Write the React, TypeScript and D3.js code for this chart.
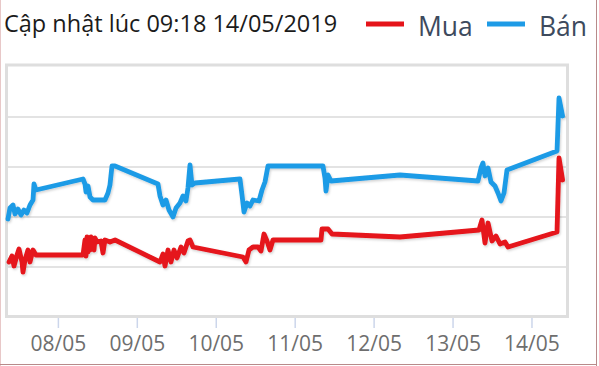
import * as d3 from "d3";
import React, { useEffect, useRef } from "react";

// Tỷ giá Mua / Bán theo thời điểm cập nhật
const muaData: [string, number][] = [
  ["07/05 08:59", 23255], ["07/05 09:53", 23261], ["07/05 10:30", 23251], ["07/05 11:25", 23262],
  ["07/05 12:01", 23268], ["07/05 12:56", 23255], ["07/05 13:14", 23245], ["07/05 13:51", 23257],
  ["07/05 14:45", 23267], ["07/05 15:22", 23255], ["07/05 16:17", 23267], ["07/05 17:11", 23262],
  ["08/05 07:29", 23262], ["08/05 08:05", 23277], ["08/05 08:24", 23261], ["08/05 08:42", 23280],
  ["08/05 09:00", 23265], ["08/05 09:18", 23279], ["08/05 09:37", 23267], ["08/05 09:55", 23280],
  ["08/05 10:31", 23277], ["08/05 10:50", 23267], ["08/05 11:08", 23279], ["08/05 11:44", 23275],
  ["08/05 12:57", 23276], ["08/05 13:34", 23264], ["08/05 14:10", 23277], ["08/05 15:41", 23275],
  ["08/05 17:13", 23277],
  ["09/05 06:54", 23255], ["09/05 07:48", 23263], ["09/05 08:25", 23251], ["09/05 09:20", 23267],
  ["09/05 10:14", 23255], ["09/05 11:09", 23267], ["09/05 12:04", 23259], ["09/05 13:17", 23270],
  ["09/05 14:11", 23264], ["09/05 15:24", 23276], ["09/05 16:01", 23277], ["09/05 16:56", 23270],
  ["10/05 08:08", 23260], ["10/05 09:03", 23255], ["10/05 09:57", 23267], ["10/05 11:10", 23270],
  ["10/05 12:42", 23270], ["10/05 13:36", 23266], ["10/05 14:31", 23283], ["10/05 15:26", 23276],
  ["10/05 16:20", 23267], ["10/05 17:15", 23277], ["11/05 07:51", 23277], ["11/05 08:09", 23288],
  ["11/05 09:59", 23288], ["11/05 11:12", 23283], ["12/05 07:52", 23280],
  ["13/05 07:54", 23287], ["13/05 08:48", 23297], ["13/05 09:43", 23274], ["13/05 10:38", 23294],
  ["13/05 11:51", 23276], ["13/05 13:04", 23281], ["13/05 14:17", 23273], ["13/05 15:48", 23275],
  ["13/05 16:43", 23270], ["14/05 07:37", 23285], ["14/05 08:13", 23359], ["14/05 09:18", 23337],
];

const banData: [string, number][] = [
  ["07/05 08:40", 23298], ["07/05 09:17", 23309], ["07/05 10:12", 23312], ["07/05 10:48", 23303],
  ["07/05 11:43", 23308], ["07/05 12:38", 23302], ["07/05 13:32", 23307], ["07/05 14:27", 23304],
  ["07/05 15:22", 23312], ["07/05 16:17", 23317], ["07/05 16:35", 23333], ["07/05 17:11", 23327],
  ["08/05 07:29", 23338], ["08/05 08:05", 23333], ["08/05 08:24", 23325], ["08/05 09:00", 23331],
  ["08/05 09:37", 23320], ["08/05 10:31", 23317], ["08/05 14:10", 23317], ["08/05 15:05", 23324],
  ["08/05 15:41", 23332], ["08/05 16:18", 23351], ["08/05 17:13", 23351],
  ["09/05 06:17", 23333], ["09/05 06:54", 23321], ["09/05 07:48", 23312], ["09/05 08:43", 23317],
  ["09/05 09:38", 23307], ["09/05 10:51", 23300], ["09/05 11:46", 23309], ["09/05 12:58", 23314],
  ["09/05 13:53", 23321], ["09/05 14:48", 23316], ["09/05 15:24", 23329], ["09/05 16:01", 23352],
  ["09/05 16:37", 23332], ["09/05 17:32", 23334], ["10/05 07:13", 23338], ["10/05 07:50", 23322],
  ["10/05 08:26", 23305], ["10/05 09:21", 23314], ["10/05 10:16", 23311], ["10/05 11:10", 23317],
  ["10/05 13:00", 23316], ["10/05 13:55", 23327], ["10/05 14:49", 23335], ["10/05 15:44", 23351],
  ["11/05 08:27", 23351], ["11/05 09:04", 23339], ["11/05 09:22", 23326], ["11/05 09:59", 23342],
  ["11/05 10:53", 23336], ["12/05 07:52", 23342],
  ["13/05 07:35", 23336], ["13/05 08:30", 23349], ["13/05 09:06", 23354], ["13/05 09:43", 23341],
  ["13/05 10:38", 23349], ["13/05 11:32", 23335], ["13/05 12:45", 23331], ["13/05 13:40", 23324],
  ["13/05 14:35", 23316], ["13/05 15:30", 23324], ["13/05 16:24", 23347], ["14/05 07:37", 23366],
  ["14/05 08:13", 23419], ["14/05 09:18", 23401],
];

const xTickLabels = ["08/05", "09/05", "10/05", "11/05", "12/05", "13/05", "14/05"];
const xDomain = ["07/05 07:46", "14/05 10:39"];
const yDomain = [23200, 23450];
const yGridValues = [23250, 23300, 23350, 23400];

const seriesNames = ["Mua", "Bán"];
const seriesColors = ["#e5141a", "#1e9be6"];
const title = "Cập nhật lúc 09:18 14/05/2019";

const parseTime = (s: string) => d3.utcParse("%d/%m/%Y %H:%M")(s.replace(" ", "/2019 ")) as Date;
const parseDay = (s: string) => d3.utcParse("%d/%m/%Y")(s + "/2019") as Date;

export default function App() {
  const svgRef = useRef<SVGSVGElement>(null);

  useEffect(() => {
    const width = 599;
    const height = 366;
    const font = "'Open Sans', 'Noto Sans', sans-serif";

    const x = d3.scaleUtc().domain(xDomain.map(parseTime)).range([5, 567]);
    const y = d3.scaleLinear().domain(yDomain).range([317, 67]);

    const svg = d3.select(svgRef.current);
    svg.selectAll("*").remove();
    svg.attr("width", width).attr("height", height).style("background", "#fff");

    const defs = svg.append("defs");
    const f = defs.append("filter").attr("id", "shadow").attr("x", "-5%").attr("y", "-5%").attr("width", "110%").attr("height", "120%");
    f.append("feDropShadow").attr("dx", 1).attr("dy", 1.5).attr("stdDeviation", 1).attr("flood-color", "#000").attr("flood-opacity", 0.18);

    // grid lines
    svg
      .append("g")
      .selectAll("line")
      .data(yGridValues)
      .join("line")
      .attr("x1", 6)
      .attr("x2", 567)
      .attr("y1", (d) => y(d))
      .attr("y2", (d) => y(d))
      .attr("stroke", "#e3e3e3")
      .attr("stroke-width", 2);

    // plot border
    svg
      .append("rect")
      .attr("x", 6.5)
      .attr("y", 65)
      .attr("width", 561)
      .attr("height", 251.5)
      .attr("fill", "none")
      .attr("stroke", "#dedede")
      .attr("stroke-width", 3);

    // x axis ticks and labels
    const tickDates = xTickLabels.map(parseDay);
    const axis = svg.append("g");
    axis
      .selectAll("line")
      .data(tickDates)
      .join("line")
      .attr("x1", (d) => x(d))
      .attr("x2", (d) => x(d))
      .attr("y1", 318)
      .attr("y2", 328)
      .attr("stroke", "#ccd6eb")
      .attr("stroke-width", 1.5);
    axis
      .selectAll("text")
      .data(tickDates)
      .join("text")
      .attr("x", (d) => x(d))
      .attr("y", 351)
      .attr("text-anchor", "middle")
      .attr("font-family", font)
      .attr("font-size", 21)
      .attr("fill", "#6e6e6e")
      .text((d) => d3.utcFormat("%d/%m")(d));

    // lines
    const line = d3
      .line<[string, number]>()
      .x((d) => x(parseTime(d[0])))
      .y((d) => y(d[1]))
      .curve(d3.curveLinear);

    const lines = svg.append("g").attr("filter", "url(#shadow)");
    [muaData, banData].forEach((data, i) => {
      lines
        .append("path")
        .datum(data)
        .attr("d", line)
        .attr("fill", "none")
        .attr("stroke", seriesColors[i])
        .attr("stroke-width", 4.8)
        .attr("stroke-linejoin", "round")
        .attr("stroke-linecap", "round");
    });

    // title
    svg
      .append("text")
      .attr("x", 4)
      .attr("y", 32)
      .attr("font-family", font)
      .attr("font-size", 23.5)
      .attr("fill", "#1b1b1b")
      .text(title);

    // legend
    const legendX = [366, 487];
    seriesNames.forEach((name, i) => {
      const g = svg.append("g").attr("transform", `translate(${legendX[i]},0)`);
      g.append("line")
        .attr("x1", 0)
        .attr("x2", 38)
        .attr("y1", 24)
        .attr("y2", 24)
        .attr("stroke", seriesColors[i])
        .attr("stroke-width", 5);
      g.append("text")
        .attr("x", 52)
        .attr("y", 36)
        .attr("font-family", font)
        .attr("font-size", 26.5)
        .attr("fill", "#3d4a5d")
        .text(name);
    });

    // outer frame of the picture
    svg.append("line").attr("x1", 0.5).attr("x2", 0.5).attr("y1", 0).attr("y2", height).attr("stroke", "#e8c8c8");
    svg.append("line").attr("x1", 596.5).attr("x2", 596.5).attr("y1", 0).attr("y2", height).attr("stroke", "#b88a8a");
    svg.append("line").attr("x1", 0).attr("x2", 597).attr("y1", 364.5).attr("y2", 364.5).attr("stroke", "#b88a8a");
  }, []);

  return (
    <div style={{ position: "absolute", left: 0, top: 0 }}>
      <svg ref={svgRef} style={{ display: "block" }} />
    </div>
  );
}
